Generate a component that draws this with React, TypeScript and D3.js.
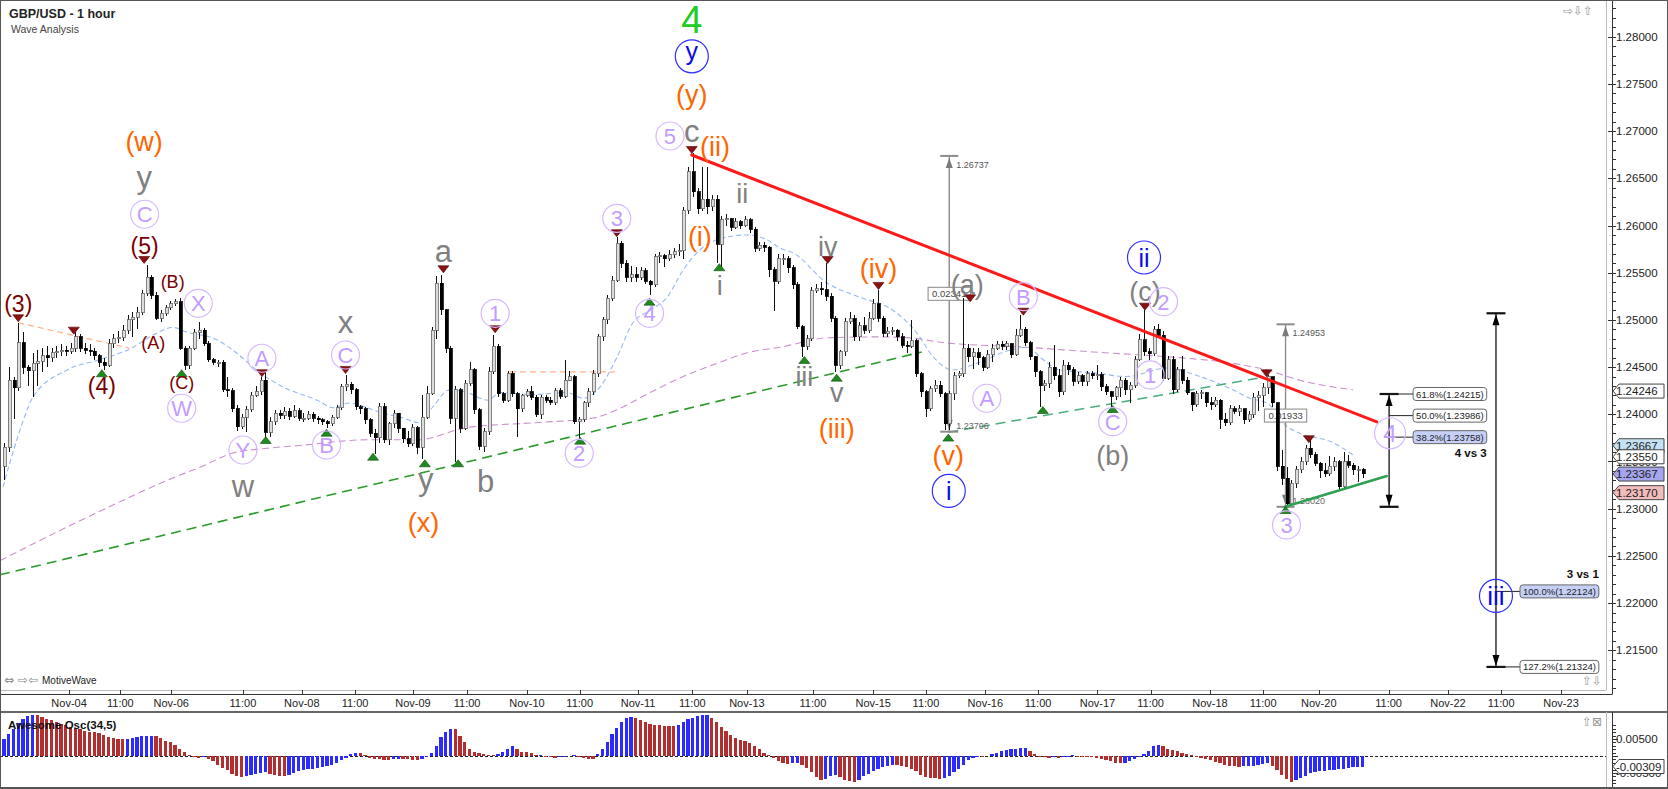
import React from "react";
import * as d3 from "d3";

const FONT = "'Liberation Sans', Arial, Helvetica, sans-serif";

// ---------- price data (pips above 1.2000), hourly candles ----------
const firstOpen = 345;
const closes = [
  365,436,428,476,450,446,454,456,462,460,
  465,466,468,467,470,482,470,468,467,462,
  455,452,475,480,481,489,500,503,508,528,
  545,526,502,507,513,517,519,470,452,470,
  487,489,475,458,455,455,426,425,406,387,
  397,405,420,424,436,381,392,401,399,403,
  398,404,396,396,400,396,394,392,390,397,
  407,429,432,426,408,406,394,380,375,408,
  373,390,401,385,374,369,386,365,397,422,
  489,539,511,470,396,426,385,433,447,405,
  366,382,445,472,422,415,443,422,406,420,
  424,418,400,418,415,413,425,419,436,440,
  392,395,412,424,443,482,500,523,542,581,
  560,545,548,545,552,541,537,567,568,565,
  569,572,573,616,657,636,618,628,620,628,
  580,606,607,598,604,600,606,596,576,579,
  577,553,541,565,565,555,537,493,472,480,
  531,533,532,525,502,452,466,498,501,482,
  494,489,502,517,502,486,488,489,482,473,
  472,478,443,424,406,427,431,422,390,422,
  441,443,470,461,465,460,450,463,470,474,
  472,475,463,484,490,476,461,445,430,433,
  450,441,424,452,447,435,441,435,443,441,
  442,429,424,419,428,436,426,431,458,479,
  466,464,490,484,438,458,426,447,436,423,
  410,422,423,412,410,415,395,391,406,403,
  406,394,400,418,420,428,440,412,345,332,
  305,327,341,350,364,357,348,340,337,345,
  350,323,350,346,341,342,337,
];
const highs = [
  370,450,440,497,487,452,465,468,470,472,
  470,472,474,472,476,487,485,476,474,470,
  464,460,480,485,488,495,505,508,514,532,
  558,548,530,510,516,520,522,523,472,472,
  490,498,491,478,460,458,457,440,428,410,
  400,409,424,430,440,445,397,405,405,408,
  407,410,407,401,404,402,398,396,394,399,
  410,432,442,434,428,410,408,396,384,412,
  412,392,405,401,384,382,390,388,420,430,
  492,546,548,512,472,430,428,436,455,449,
  407,385,450,484,475,424,446,446,424,422,
  427,430,420,420,420,418,428,428,458,446,
  442,397,414,428,447,485,503,526,546,588,
  584,563,557,556,556,555,542,570,572,570,
  574,576,580,620,662,677,640,662,662,632,
  632,610,612,608,608,606,610,608,598,582,
  582,578,556,570,570,568,558,540,495,484,
  535,538,540,560,528,504,468,502,508,505,
  498,503,508,522,532,504,492,492,490,486,
  478,500,480,445,426,430,436,435,424,425,
  445,446,523,475,470,470,462,468,474,478,
  478,478,476,490,505,492,478,462,447,436,
  455,473,448,458,455,450,445,443,446,446,
  452,445,432,425,430,440,438,434,462,485,
  510,470,494,496,488,462,462,450,462,440,
  424,425,426,424,418,418,416,401,410,409,
  410,402,404,423,425,433,442,440,412,362,
  344,330,345,355,367,373,360,350,348,356,
  355,352,360,357,348,345,343,
];
const lows = [
  330,360,395,425,443,430,418,430,445,450,
  455,460,462,462,464,466,466,464,462,458,
  450,447,450,470,476,478,485,482,490,505,
  525,522,500,498,504,510,515,468,447,448,
  468,480,472,455,452,450,424,418,402,382,
  384,381,402,418,420,373,376,389,395,395,
  394,396,393,392,394,392,390,389,386,388,
  395,405,425,422,405,400,390,376,358,370,
  370,368,385,380,370,365,366,358,353,395,
  420,480,505,465,390,350,380,383,430,400,
  362,360,378,443,418,412,413,418,376,402,
  418,415,397,395,412,410,410,416,417,435,
  390,375,392,408,420,440,478,496,520,540,
  555,540,540,540,542,538,526,535,560,556,
  562,566,568,565,612,630,612,615,612,615,
  560,556,600,594,596,596,598,592,572,573,
  572,545,509,538,558,550,533,490,461,468,
  478,528,526,520,498,445,448,462,496,478,
  478,485,486,500,498,482,482,484,478,470,
  465,470,440,418,397,404,424,418,383,383,
  415,438,440,455,448,452,446,448,455,468,
  468,468,460,462,482,472,458,440,408,425,
  428,436,418,420,442,430,432,430,430,437,
  436,425,420,406,415,418,420,412,428,456,
  462,458,462,482,435,436,422,424,432,420,
  404,408,416,408,405,408,384,388,389,400,
  398,390,392,396,404,408,422,408,340,325,
  302,305,322,338,346,354,345,333,334,335,
  340,320,320,343,336,328,333,
];

// Awesome oscillator values (units of 0.0001)
const aoValues = [
  50,65,80,98,110,118,122,121,116,110,
  105,100,95,90,86,82,79,75,72,70,
  67,62,57,53,50,49,51,53,55,58,
  59,60,58,52,45,40,32,22,12,4,
  -3,-5,-4,-8,-15,-25,-35,-42,-52,-60,
  -62,-60,-57,-54,-50,-48,-52,-56,-59,-60,
  -55,-50,-45,-40,-39,-38,-36,-32,-30,-25,
  -20,-13,-5,5,10,8,2,-5,-8,-10,
  -12,-13,-10,-8,-9,-10,-12,-12.5,-8,-2,
  10,30,55,70,80,78,60,40,22,12,
  8,5,3,2,6,12,22,28,20,13,
  11,8,3,4,0,-3,-5,-3,-1,1,
  3,-2,-5,-8,-10,5,20,40,65,82,
  100,112,115,112,107,100,95,91,90,89.5,
  89,88,90,100,108,113,117,120,122,112,
  100,85,75,62,52,46,43,38,30,20,
  10,2,-6,-14,-20,-24,-22,-21,-25,-35,
  -48,-62,-70,-68,-60,-55,-62,-70,-74,-75,
  -70,-60,-52,-45,-38,-32,-28,-25,-26,-28,
  -32,-38,-45,-55,-62,-65,-66,-67,-64,-58,
  -48,-38,-25,-12,-5,-2,-4,1,5,10,
  15,18,20,22,23,24,16,5,-3,-4,
  -5,-4,-5,-4,-2,2,0,-2,-3,-3.5,
  -5,-8,-12,-16,-20,-22,-20,-15,-10,-4,
  5,15,28,32,28,22,18,14,10,5,
  2,-2,-5,-8,-12,-18,-22,-26,-28,-30,
  -31,-30,-29,-28,-27,-24,-22,-30,-42,-55,
  -68,-75,-72,-65,-58,-50,-46,-44,-43,-42,
  -40,-38,-37,-35,-33,-32,-31,
];

// moving averages: [candle index, pips]
const blueMA: [number, number][] = [
  [-0.2,323],[2.7,373],[6.1,418],[13.3,447],[20.2,458],[27.2,471],[30.7,482],[35.6,492],[38.5,487],
  [44.8,479],[48.2,468],[53.9,444],[58.7,429],[65.9,415],[69.3,407],[72.8,412],[76.4,407],[79.8,401],
  [83.4,397],[87.6,391],[90.3,408],[93.9,426],[97.5,423],[101.9,415],[104.4,423],[111.4,421],[118.5,423],
  [121.9,417],[125.5,429],[129.1,461],[132.4,497],[136,510],[139.6,524],[143,553],[146.5,574],[150.1,585],
  [156.4,590],[160.6,585],[163.4,576],[166.1,571],[173.3,539],[180.2,524],[187.2,510],[192.2,486],
  [195.6,461],[199.8,447],[204.8,454],[211.8,468],[215.4,471],[218.7,458],[222.3,447],[229.3,444],
  [236.4,440],[244.8,449],[251.8,440],[258.7,426],[262.3,417],[265.9,412],[270.1,387],[272.8,380],
  [279.8,370],[284,357],
];
const purpleMA: [number, number][] = [
  [-0.8,245],[11.8,277],[25.1,309],[34.3,330],[41.3,344],[48.2,359],[55.4,364],[62.3,367],[76.4,373],
  [87,373],[97.5,386],[111.4,391],[124,396],[129.1,405],[136,423],[143,440],[150.1,454],[157.1,466],
  [163.4,471],[173.3,481],[183.8,482],[190.7,481],[197.7,476],[215.4,471],[229.3,466],[244.8,461],
  [258.7,454],[265.9,447],[272.8,436],[284,426],
];

const xTickLabels = ["Nov-04","11:00","Nov-06","11:00","Nov-08","11:00","Nov-09","11:00","Nov-10","11:00","Nov-11","11:00","Nov-13","11:00","Nov-15","11:00","Nov-16","11:00","Nov-17","11:00","Nov-18","11:00","Nov-20","11:00","Nov-22","11:00","Nov-23"];
const xTickIdx = [13.7,24.5,35.2,50.3,62.7,73.9,86.1,97.5,110.1,121.2,133.5,144.9,156.4,170.3,183,194.1,206.6,217.7,230.2,241.4,253.9,265.1,276.8,291.5,304,315.2,327.8];
const priceTicks = [1.215,1.22,1.225,1.23,1.235,1.24,1.245,1.25,1.255,1.26,1.265,1.27,1.275,1.28];

// trend lines: [i1, pips1, i2, pips2, colour, width, dash]
const trendLines: [number, number, number, number, string, number, string][] = [
  [-0.84,230,193.2,466,"#2a9a2a",1.6,"10,6"],
  [198.8,381,264.4,438.5,"#4aae7e",1.5,"10,6"],
  [3,497,26.5,470,"#ffb088",1.2,"6,4"],
  [106.5,445,128.6,445,"#ffb088",1.2,"6,4"],
  [144.8,674.7,289,392,"#ff1a1a",3,""],
  [269.7,302,291.1,334.6,"#2ea052",2.5,""],
];

// wave labels: [candle index, pips, text, style]
const waveLabels: [number, number, string, string][] = [
  [144.8,818.8,"4","g4"],[144.8,779.2,"y","bl"],[144.8,737.4,"(y)","or"],[140.2,694.8,"5","lv"],
  [144.8,697,"c","gr"],[149.7,682.1,"(ii)","or"],[155.4,633.9,"ii","gs"],[146.5,586.8,"(i)","or"],
  [150.7,537,"i","gs"],[29.5,688,"(w)","or"],[29.5,644.7,"y","gr"],[29.6,611.9,"C","lv"],
  [29.6,577.6,"(5)","dr"],[3.0,515.8,"(3)","dr"],[20.6,429.3,"(4)","dr"],[31.4,475.2,"(A)","ds"],
  [35.5,539.4,"(B)","ds"],[37.4,432.9,"(C)","ds"],[40.9,517.6,"X","lv"],[37.4,406.4,"W","lv"],
  [54.3,459.4,"A","lv"],[50.3,362.2,"Y","lv"],[67.9,367.5,"B","lv"],[71.9,462.8,"C","lv"],
  [71.9,494.6,"x","gr"],[50.3,321.4,"w","gr"],[88.8,324.1,"y","gr"],[88.3,284.4,"(x)","or"],
  [101.4,329.9,"b","gr"],[92.5,570.4,"a","gr"],[103.4,507,"1","lv"],[121.1,358.7,"2","lv"],
  [129,607.6,"3","lv"],[135.9,507,"4","lv"],[173.4,577.6,"iv","gs"],[184.1,552.9,"(iv)","or"],
  [168.5,439.9,"iii","gs"],[175.3,420.5,"v","gs"],[175.3,383.4,"(iii)","or"],[198.8,355.1,"(v)","or"],
  [198.9,318.8,"i","bl"],[202.8,535.9,"(a)","gs"],[206.9,417,"A","lv"],[214.6,524.6,"B","lv"],
  [233.4,392.2,"C","lv"],[233.4,355.1,"(b)","gs"],[240,566.1,"ii","bl"],[240.2,528.2,"(c)","gs"],
  [244.1,519.3,"2","lv"],[241.3,441.7,"1","lv"],[270,282.8,"3","lv"],[291.8,379.9,"4","lvb"],
  [314.1,207.6,"iii","blb"],
];
const peakMarks: [number, number][] = [
  [3.0,501.7],[14.7,488.6],[29.5,563.5],[54.3,443.5],[71.9,447],[92.5,553.6],[103.4,490.1],[129,591.8],
  [144.8,680],[173.4,563.5],[184.1,536],[203.4,522.9],[214.6,508.7],[240.2,514],[265.8,443.5],[274.7,373.6],
];
const troughMarks: [number, number][] = [
  [20.6,443.5],[37.4,443.5],[55.1,372.8],[67.9,380.5],[77.7,355.1],[88.6,348.1],[95.6,348.1],[121.3,372.1],
  [135.9,519.3],[150.6,555.8],[168.5,457.6],[175.3,438.8],[198.8,375.3],[218.7,404.6],[233.4,405.6],[269.8,298.6],
];

// measurement tools: [candle index, low price, high price, top text, mid text, bottom text]
const measures: [number, number, number, string, string, string][] = [
  [199, 1.23816, 1.26737, "1.26737", "0.02341", "1.23706"],
  [269.8, 1.2302, 1.24953, "1.24953", "0.01933", "1.23020"],
];
// fibonacci projections
const fibLines: [number, number, number][] = [[291.6, 1.24215, 1.2302], [314.1, 1.2507, 1.21324]];
const fibLabels: [number, number, string, number][] = [
  [291.6, 1.24215, "61.8%(1.24215)", 0],
  [291.6, 1.23986, "50.0%(1.23986)", 0],
  [291.6, 1.23758, "38.2%(1.23758)", 1],
  [314.1, 1.22124, "100.0%(1.22124)", 1],
  [314.1, 1.21324, "127.2%(1.21324)", 0],
];
const fibNotes: [number, number, string][] = [[291.6, 1.23758, "4 vs 3"], [314.1, 1.22124, "3 vs 1"]];
const priceBoxes: [number, string][] = [
  [1.24246, "#ffffff"], [1.23667, "#c4e2f4"], [1.2355, "#ffffff"], [1.23367, "#a6a6ee"], [1.2317, "#f3bcbc"],
];

// ---------- layout ----------
const W = 1668, H = 789;
const PLOT_R = 1606, PLOT_B = 690, AXIS_X = 1612;
const OSC_T = 712, OSC_B = 787;

function approxWidth(t: string, size: number) {
  let w = 0;
  for (const ch of t) {
    if (/[0-9]/.test(ch)) w += 0.556;
    else if (ch === ".") w += 0.278;
    else if (ch === "%") w += 0.889;
    else if (ch === "(" || ch === ")") w += 0.333;
    else w += 0.55;
  }
  return w * size;
}

function dyFor(t: string) {
  if (t.includes("(")) return 0.3;
  if (/^[yg]$/.test(t)) return 0.14;
  if (/^[acemnorsuvwxz]+$/.test(t)) return 0.26;
  return 0.36;
}

const LSTYLE: Record<string, { fill: string; size: number; circle?: string; r?: number }> = {
  g4: { fill: "#22cc22", size: 38 },
  or: { fill: "#ff6600", size: 27 },
  gr: { fill: "#808080", size: 31 },
  gs: { fill: "#808080", size: 27 },
  dr: { fill: "#7a0000", size: 23 },
  ds: { fill: "#7a0000", size: 18 },
  lv: { fill: "#c39cff", size: 22, circle: "#d6b8ff", r: 14 },
  lvb: { fill: "#c39cff", size: 24, circle: "#d6b8ff", r: 15.5 },
  bl: { fill: "#0a0aee", size: 25, circle: "#2f2fff", r: 16.5 },
  blb: { fill: "#0a0aee", size: 26, circle: "#2f2fff", r: 16.5 },
};

export default function App() {
  const x = d3.scaleLinear().domain([0, 286]).range([4, 1362.5]);
  const y = d3.scaleLinear().domain([1.21, 1.28]).range([697.5, 36.7]);
  const yo = d3.scaleLinear().domain([0, 0.005]).range([756, 739]);
  const P = (v: number) => 1.2 + v / 10000;

  const n = Math.min(closes.length, highs.length, lows.length);
  const candles = d3.range(n).map((i) => {
    const o = i === 0 ? firstOpen : closes[i - 1];
    const c = closes[i];
    return { i, o, c, h: Math.max(highs[i], o, c), l: Math.min(lows[i], o, c) };
  });

  const maLine = d3
    .line<[number, number]>()
    .x((d) => x(d[0]))
    .y((d) => y(P(d[1])))
    .curve(d3.curveMonotoneX);

  const minorTicks = d3.range(1211, 1284).map((v) => v / 1000);
  const oscMinor = d3.range(-9, 10).map((v) => v / 1000);

  const arrow = (cx: number, tipY: number, dir: number, w: number, h: number) =>
    `M${cx},${tipY} L${cx - w / 2},${tipY + dir * h} L${cx + w / 2},${tipY + dir * h} Z`;

  return (
    <div style={{ position: "absolute", left: 0, top: 0, width: W, height: H, background: "#fff" }}>
      <svg width={W} height={H} style={{ display: "block", fontFamily: FONT }}>
        <defs>
          <clipPath id="mainClip">
            <rect x={1} y={1} width={PLOT_R - 1} height={PLOT_B - 1} />
          </clipPath>
          <clipPath id="oscClip">
            <rect x={1} y={OSC_T + 1} width={PLOT_R - 1} height={OSC_B - OSC_T - 1} />
          </clipPath>
        </defs>
        <rect x={0} y={0} width={W} height={H} fill="#fff" />

        {/* ---------- main panel ---------- */}
        <g clipPath="url(#mainClip)">
          <path d={maLine(purpleMA) || ""} fill="none" stroke="#cc8fd0" strokeWidth={1.1} strokeDasharray="7,4" />
          <path d={maLine(blueMA) || ""} fill="none" stroke="#94b8f2" strokeWidth={1.1} strokeDasharray="5,3" />

          {trendLines.filter((t) => t[6] !== "").map((t, k) => (
            <line key={"tl" + k} x1={x(t[0])} y1={y(P(t[1]))} x2={x(t[2])} y2={y(P(t[3]))}
              stroke={t[4]} strokeWidth={t[5]} strokeDasharray={t[6]} />
          ))}

          {/* measurement tools (grey) */}
          {measures.map((m, k) => {
            const cx = x(m[0]);
            const yl = y(m[1]);
            const yh = y(m[2]);
            const ym = (yl + yh) / 2;
            const bw = approxWidth(m[4], 9.5) + 8;
            return (
              <g key={"ms" + k}>
                <line x1={cx} y1={yh} x2={cx} y2={yl} stroke="#8c8c8c" strokeWidth={1.4} />
                <line x1={cx - 9} y1={yh} x2={cx + 9} y2={yh} stroke="#8c8c8c" strokeWidth={2} />
                <line x1={cx - 9} y1={yl} x2={cx + 9} y2={yl} stroke="#8c8c8c" strokeWidth={2} />
                <path d={arrow(cx, yh + 2, 1, 7, 10)} fill="#7a7a7a" />
                <path d={arrow(cx, yl - 2, -1, 7, 10)} fill="#7a7a7a" />
                <text x={cx + 7} y={yh + 12} fontSize={9} fill="#555">{m[3]}</text>
                <text x={cx + 7} y={yl - 3} fontSize={9} fill="#666">{m[5]}</text>
                <rect x={cx - bw / 2} y={ym - 6.5} width={bw} height={13} fill="#fff" stroke="#888" strokeWidth={1} />
                <text x={cx} y={ym + 3.5} fontSize={9.5} fill="#444" textAnchor="middle">{m[4]}</text>
              </g>
            );
          })}

          {/* candles */}
          <g shapeRendering="crispEdges">
            {candles.map((d) => {
              const cx = Math.round(x(d.i)) + 0.5;
              const yTop = y(P(Math.max(d.o, d.c)));
              const yBot = y(P(Math.min(d.o, d.c)));
              const up = d.c >= d.o;
              return (
                <g key={"c" + d.i}>
                  <line x1={cx} x2={cx} y1={y(P(d.h))} y2={y(P(d.l))} stroke="#111" strokeWidth={1} />
                  <rect x={cx - 1.5} y={yTop} width={3} height={Math.max(1, yBot - yTop)}
                    fill={up ? "#dcdcdc" : "#000"} stroke={up ? "#666" : "#000"} strokeWidth={0.8} />
                </g>
              );
            })}
          </g>

          {trendLines.filter((t) => t[6] === "").map((t, k) => (
            <line key={"ts" + k} x1={x(t[0])} y1={y(P(t[1]))} x2={x(t[2])} y2={y(P(t[3]))}
              stroke={t[4]} strokeWidth={t[5]} strokeLinecap="round" />
          ))}

          {/* fibonacci projections */}
          {fibLines.map((f, k) => {
            const cx = x(f[0]);
            const yt = y(f[1]);
            const yb = y(f[2]);
            return (
              <g key={"fl" + k}>
                <line x1={cx} x2={cx} y1={yt} y2={yb} stroke="#111" strokeWidth={1.3} />
                <line x1={cx - 9.5} x2={cx + 9.5} y1={yt} y2={yt} stroke="#111" strokeWidth={2.2} />
                <line x1={cx - 9.5} x2={cx + 9.5} y1={yb} y2={yb} stroke="#111" strokeWidth={2.2} />
                <path d={arrow(cx, yt + 1, 1, 7, 11)} fill="#000" />
                <path d={arrow(cx, yb - 1, -1, 7, 11)} fill="#000" />
              </g>
            );
          })}
          {fibLabels.map((f, k) => {
            const cx = x(f[0]);
            const yy = y(f[1]);
            const bx = cx + 24;
            const bw = approxWidth(f[2], 9.5) + 6;
            return (
              <g key={"fb" + k}>
                <line x1={cx} x2={bx} y1={yy} y2={yy} stroke="#222" strokeWidth={1} />
                <rect x={bx} y={yy - 6.5} width={bw} height={13} rx={3} fill={f[3] ? "#c6cff6" : "#fff"} stroke="#666" strokeWidth={1} />
                <text x={bx + 3} y={yy + 3.5} fontSize={9.5} fill="#222">{f[2]}</text>
              </g>
            );
          })}
          {fibNotes.map((f, k) => {
            const cx = x(f[0]);
            const yy = y(f[1]);
            const lbl = fibLabels.find((l) => l[0] === f[0] && l[1] === f[1]);
            const bw = lbl ? approxWidth(lbl[2], 9.5) + 6 : 70;
            const right = cx + 24 + bw;
            return (
              <text key={"fn" + k} x={right} y={k === 0 ? yy + 20 : yy - 13} fontSize={11.5} fontWeight="bold" fill="#111" textAnchor="end">
                {f[2]}
              </text>
            );
          })}

          {/* pivot markers */}
          {peakMarks.map((m, k) => {
            const cx = x(m[0]);
            const cy = y(P(m[1]));
            return <path key={"pk" + k} d={`M${cx - 5.5},${cy - 3.5} L${cx + 5.5},${cy - 3.5} L${cx},${cy + 3.5} Z`} fill="#8a1111" stroke="#4a0000" strokeWidth={0.6} />;
          })}
          {troughMarks.map((m, k) => {
            const cx = x(m[0]);
            const cy = y(P(m[1]));
            return <path key={"tr" + k} d={`M${cx - 5.5},${cy + 3.5} L${cx + 5.5},${cy + 3.5} L${cx},${cy - 3.5} Z`} fill="#1f8a1f" stroke="#0b4a0b" strokeWidth={0.6} />;
          })}

          {/* wave labels */}
          {waveLabels.map((w, k) => {
            const st = LSTYLE[w[3]];
            const cx = x(w[0]);
            const cy = y(P(w[1]));
            return (
              <g key={"wl" + k}>
                {st.circle && <circle cx={cx} cy={cy} r={st.r} fill="none" stroke={st.circle} strokeWidth={1.2} />}
                <text x={cx} y={cy} dy={`${dyFor(w[2])}em`} fontSize={st.size} fill={st.fill} textAnchor="middle">
                  {w[2]}
                </text>
              </g>
            );
          })}
        </g>

        {/* title */}
        <text x={9} y={18} fontSize={12.5} fontWeight="bold" fill="#222">GBP/USD - 1 hour</text>
        <text x={11} y={33} fontSize={10.5} fill="#444">Wave Analysis</text>
        <text x={1563} y={15} fontSize={12} fill="#999" fontFamily="'DejaVu Sans', sans-serif">⇨⇩⇧</text>
        <text x={4} y={684} fontSize={12} fill="#888" fontFamily="'DejaVu Sans', sans-serif">⇔ ⇨⇦</text>
        <text x={42} y={684} fontSize={10} fill="#222">MotiveWave</text>
        <text x={1582} y={685} fontSize={12} fill="#999" fontFamily="'DejaVu Sans', sans-serif">⇧⇩</text>

        {/* frames */}
        <line x1={PLOT_R + 0.5} x2={PLOT_R + 0.5} y1={0} y2={PLOT_B} stroke="#bbb" />
        <line x1={0} x2={PLOT_R} y1={PLOT_B + 0.5} y2={PLOT_B + 0.5} stroke="#bbb" />
        <line x1={0} x2={AXIS_X} y1={694.5} y2={694.5} stroke="#333" />
        <line x1={AXIS_X + 0.5} x2={AXIS_X + 0.5} y1={0} y2={694.5} stroke="#333" />

        {/* price axis */}
        {minorTicks.map((v, k) => (
          <line key={"mt" + k} x1={AXIS_X} x2={AXIS_X + 4} y1={Math.round(y(v)) + 0.5} y2={Math.round(y(v)) + 0.5} stroke="#333" />
        ))}
        {priceTicks.map((v, k) => (
          <g key={"pt" + k}>
            <line x1={AXIS_X - 4} x2={AXIS_X + 4} y1={Math.round(y(v)) + 0.5} y2={Math.round(y(v)) + 0.5} stroke="#333" />
            <text x={1616} y={y(v) + 4} fontSize={11.5} fill="#222">{v.toFixed(5)}</text>
          </g>
        ))}
        {priceBoxes.map((b, k) => {
          const yy = y(b[0]);
          return (
            <g key={"pb" + k}>
              <path d={`M${AXIS_X + 1},${yy} L${AXIS_X + 7},${yy - 7} L1664,${yy - 7} L1664,${yy + 7} L${AXIS_X + 7},${yy + 7} Z`}
                fill={b[1]} stroke="#444" strokeWidth={1} />
              <text x={1616} y={yy + 4.2} fontSize={11.5} fill="#222">{b[0].toFixed(5)}</text>
            </g>
          );
        })}

        {/* time axis */}
        {xTickIdx.map((t, k) => (
          <g key={"xt" + k}>
            <line x1={Math.round(x(t)) + 0.5} x2={Math.round(x(t)) + 0.5} y1={PLOT_B} y2={694.5} stroke="#333" />
            <text x={x(t)} y={707} fontSize={11} fill="#222" textAnchor="middle">{xTickLabels[k]}</text>
          </g>
        ))}

        {/* ---------- oscillator panel ---------- */}
        <rect x={0} y={OSC_T - 1} width={W} height={2} fill="#666" />
        <g clipPath="url(#oscClip)">
          <line x1={0} x2={PLOT_R} y1={yo(0) + 0.5} y2={yo(0) + 0.5} stroke="#222" strokeDasharray="3,2" />
          <g shapeRendering="crispEdges">
            {aoValues.map((v, i) => {
              const up = i === 0 || v >= aoValues[i - 1];
              const y0 = yo(0);
              const y1 = yo(v / 10000);
              return (
                <rect key={"ao" + i} x={x(i) - 1.6} width={3.2} y={Math.min(y0, y1)} height={Math.max(0.8, Math.abs(y1 - y0))}
                  fill={up ? "#2b2bff" : "#b32e2e"} />
              );
            })}
          </g>
        </g>
        <text x={8} y={729} fontSize={11.5} fontWeight="bold" fill="#111">Awesome Osc(34,5)</text>
        <text x={1582} y={726} fontSize={12} fill="#999" fontFamily="'DejaVu Sans', sans-serif">⇧⊠</text>
        <line x1={PLOT_R + 0.5} x2={PLOT_R + 0.5} y1={OSC_T} y2={OSC_B} stroke="#bbb" />
        <line x1={AXIS_X + 0.5} x2={AXIS_X + 0.5} y1={OSC_T} y2={OSC_B} stroke="#333" />
        {oscMinor.map((v, k) => {
          const yy = yo(v);
          if (yy < OSC_T + 2 || yy > OSC_B - 1) return null;
          return <line key={"om" + k} x1={AXIS_X} x2={AXIS_X + (k % 5 === 4 ? 6 : 4)} y1={Math.round(yy) + 0.5} y2={Math.round(yy) + 0.5} stroke="#333" />;
        })}
        <text x={1616} y={yo(0.005) + 4} fontSize={11.5} fill="#222">0.00500</text>
        <text x={1616} y={yo(-0.005) + 4} fontSize={11.5} fill="#222">-0.00500</text>
        <path d={`M${AXIS_X + 1},${yo(-0.00309)} L${AXIS_X + 7},${yo(-0.00309) - 7} L1664,${yo(-0.00309) - 7} L1664,${yo(-0.00309) + 7} L${AXIS_X + 7},${yo(-0.00309) + 7} Z`}
          fill="#fff" stroke="#444" />
        <text x={1616} y={yo(-0.00309) + 4.2} fontSize={11.5} fill="#222">-0.00309</text>

        {/* outer frame */}
        <rect x={0.5} y={0.5} width={W - 1} height={H - 1} fill="none" stroke="#555" />
        <rect x={0} y={OSC_B} width={W} height={2} fill="#555" />
      </svg>
    </div>
  );
}
